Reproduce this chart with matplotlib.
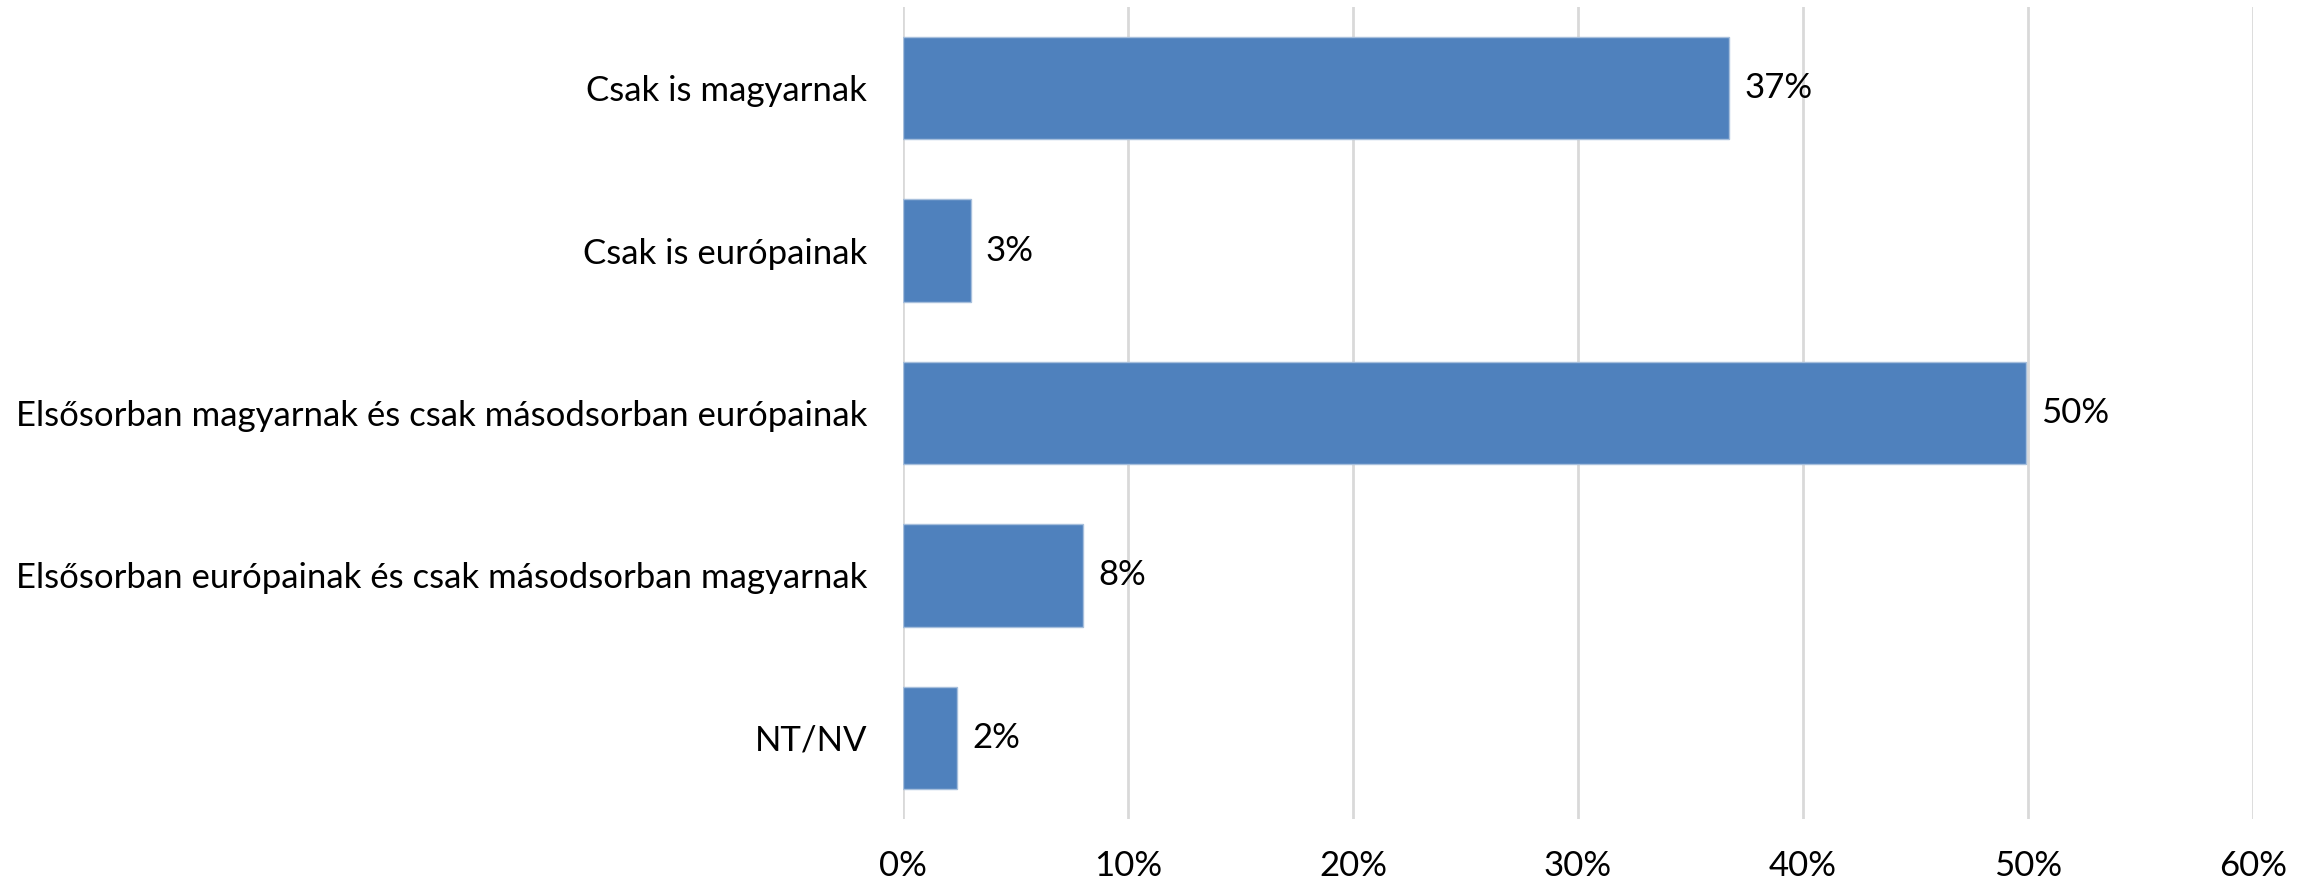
import matplotlib
matplotlib.use("Agg")
import matplotlib.pyplot as plt
from matplotlib.ticker import FuncFormatter

categories = [
    "Csak is magyarnak",
    "Csak is európainak",
    "Elsősorban magyarnak és csak másodsorban európainak",
    "Elsősorban európainak és csak másodsorban magyarnak",
    "NT/NV",
]
values = [36.7, 3.0, 49.9, 8.0, 2.4]
xticks = [0, 10, 20, 30, 40, 50, 60]

plt.rcParams['font.family'] = ['Lato', 'DejaVu Sans']

fig = plt.figure(figsize=(23.16, 8.83), dpi=100)
ax = fig.add_axes([903/2316, 1-819/883, (2253-903)/2316, (819-7)/883])

y = list(range(len(categories)))
bars = ax.barh(y, values, height=0.63, color="#4f81bd", edgecolor="#a7bfdc", linewidth=1, zorder=3)
ax.set_ylim(len(categories)-0.5, -0.5)
ax.set_xlim(0, 60)
ax.set_xticks(xticks)
ax.xaxis.set_major_formatter(FuncFormatter(lambda v, p: f"{int(v)}%"))
ax.set_yticks(y)
ax.set_yticklabels(categories)
ax.grid(axis='x', color="#d9d9d9", linewidth=2, zorder=0)
for s in ax.spines.values():
    s.set_visible(False)
ax.tick_params(axis='both', length=0, labelsize=25, colors='black')
ax.tick_params(axis='x', pad=22)
ax.tick_params(axis='y', pad=26)

for b, v in zip(bars, values):
    ax.annotate(f"{round(v)}%", (b.get_width(), b.get_y() + b.get_height()/2),
                xytext=(11, 0), textcoords='offset points', va='center', ha='left',
                fontsize=25, zorder=4)

fig.savefig("out.png", dpi=100)
